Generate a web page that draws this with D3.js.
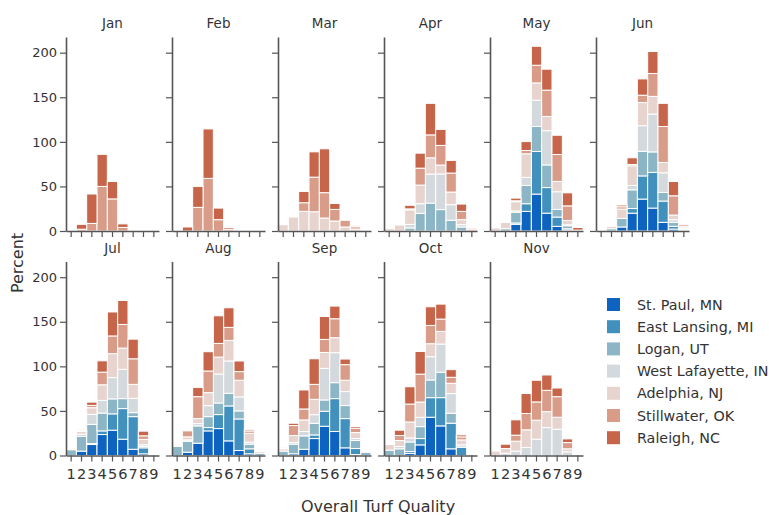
<!DOCTYPE html>
<html>
<head>
<meta charset="utf-8">
<script src="https://cdn.jsdelivr.net/npm/d3@7"></script>
<style>
	body { margin: 0; background: #fff; }
	text { font-family: "DejaVu Sans", sans-serif; fill: #333; }
</style>
</head>
<body>
<div id="chart"></div>
<script>

// stacking order, bottom to top
const locations = [ "St. Paul, MN", "East Lansing, MI", "Logan, UT", "West Lafayette, IN", "Adelphia, NJ", "Stillwater, OK", "Raleigh, NC" ];
const colors = [ "#0e63c0", "#4290bd", "#8cb6c6", "#d4d9dd", "#e8d4cf", "#d89c89", "#c6654a" ];
const qualities = [ 1, 2, 3, 4, 5, 6, 7, 8, 9 ];
const months = [ "Jan", "Feb", "Mar", "Apr", "May", "Jun", "Jul", "Aug", "Sep", "Oct", "Nov" ];
const yTicks = [ 0, 50, 100, 150, 200 ];

// percent per location (rows) and turf quality 1..9 (columns)
const jan = [
	[ 0, 0, 0, 0, 0, 0, 0, 0, 0 ],
	[ 0, 0, 0, 0, 0, 0, 0, 0, 0 ],
	[ 0, 0, 0, 0, 0, 0, 0, 0, 0 ],
	[ 0, 0, 0, 0, 0, 0, 0, 0, 0 ],
	[ 0, 0, 0, 0, 0, 0, 0, 0, 0 ],
	[ 0, 2, 8.5, 50, 36, 4, 0, 0, 0 ],
	[ 0, 5.5, 33, 36, 19.5, 4, 0, 0, 0 ]
];
const feb = [
	[ 0, 0, 0, 0, 0, 0, 0, 0, 0 ],
	[ 0, 0, 0, 0, 0, 0, 0, 0, 0 ],
	[ 0, 0, 0, 0, 0, 0, 0, 0, 0 ],
	[ 0, 0, 0, 0, 0, 0, 0, 0, 0 ],
	[ 0, 0, 0, 0, 0, 0, 0, 0, 0 ],
	[ 0, 0, 26.5, 59, 12.7, 1.5, 0, 0, 0 ],
	[ 0, 4.5, 23.5, 55.5, 13, 2, 0, 0, 0 ]
];
const mar = [
	[ 0, 0, 0, 0, 0, 0, 0, 0, 0 ],
	[ 0, 0, 0, 0, 0, 0, 0, 0, 0 ],
	[ 0, 0, 0, 0, 0, 0, 0, 0, 0 ],
	[ 0, 0, 0, 0, 0, 0, 0, 0, 0 ],
	[ 7, 15.7, 22, 21.6, 14.6, 11.2, 4.5, 2.2, 0 ],
	[ 0, 0, 9.7, 38.8, 28.4, 13, 7.5, 2.6, 0 ],
	[ 0, 0, 12.7, 28.4, 49.2, 6.7, 0, 1.2, 0 ]
];
const apr = [
	[ 0, 0, 0, 0, 0, 0, 0, 0, 0 ],
	[ 0, 0, 0, 0, 0, 0, 0, 0, 0 ],
	[ 0, 0, 3.4, 19.8, 31.3, 24, 12, 4.5, 0 ],
	[ 0, 0, 4, 10.8, 32.5, 40, 17.5, 2.6, 0 ],
	[ 2.6, 6.7, 16.4, 20.9, 18.3, 10, 14.2, 5.6, 0 ],
	[ 0, 0, 1, 19, 25.7, 22, 21.3, 9.3, 1.5 ],
	[ 0, 0, 4, 16.8, 35.4, 18, 14.2, 8.2, 1.5 ]
];
const may = [
	[ 0, 0, 7.5, 22, 41.4, 20, 5.2, 1, 0 ],
	[ 0, 0, 1.5, 8.6, 47.8, 28.7, 10.4, 1.5, 0 ],
	[ 0, 2.6, 12, 20.5, 28, 25.4, 8.6, 3.4, 0 ],
	[ 0, 0, 1.5, 9, 29.5, 38.4, 19.8, 1, 0 ],
	[ 3.4, 7, 10.4, 26.5, 19.4, 16, 11.6, 4.9, 1 ],
	[ 0, 0, 1, 3.7, 19.8, 29.5, 30.2, 16.4, 0 ],
	[ 0, 0, 3, 10, 21.3, 23.5, 21.6, 14.6, 3 ]
];
const jun = [
	[ 0, 0, 4.5, 20, 35.8, 25.7, 9.7, 2.2, 1 ],
	[ 0, 0, 0, 5.2, 26, 40, 23.9, 3, 1 ],
	[ 0.5, 2.6, 9.7, 21, 27.6, 23, 9.7, 4.5, 1 ],
	[ 0, 0, 0, 4.9, 28.7, 42.5, 22, 3, 0.5 ],
	[ 0, 2.6, 10.4, 22, 26, 19.8, 11.6, 5.2, 2 ],
	[ 0, 0, 2.6, 1.5, 8.2, 25.7, 40.3, 21.6, 2 ],
	[ 0, 0, 1.9, 7.5, 18.3, 24.6, 26, 16, 0 ]
];
const jul = [
	[ 0, 4.9, 12.3, 23.5, 28.4, 18.3, 7, 1.9, 0 ],
	[ 0, 0, 1, 4.1, 18.3, 34.3, 36.6, 6.7, 0 ],
	[ 6.3, 16.4, 21.6, 20, 16.8, 11.2, 4.5, 1.5, 0 ],
	[ 0, 2.6, 11.2, 14.2, 23.9, 32.8, 16, 1.9, 0 ],
	[ 0, 3, 7.5, 17.5, 26.9, 23.9, 15.7, 6, 0 ],
	[ 0, 1, 2.6, 14.2, 19.8, 26.5, 28.7, 4.1, 0 ],
	[ 0, 1, 3.7, 12.7, 26.9, 26.9, 22, 5.2, 0 ]
];
const aug = [
	[ 0, 3.7, 13.8, 27.6, 30.2, 16.4, 5.6, 1.9, 0 ],
	[ 0, 0, 0, 3.7, 15.7, 39.2, 35.4, 5.6, 0 ],
	[ 10.4, 12.3, 19.4, 12.3, 13, 14.2, 9, 5.2, 2.6 ],
	[ 0, 1.5, 2.6, 12.3, 32.5, 36.2, 15.7, 2.2, 0 ],
	[ 1, 3.4, 5.6, 14.6, 19, 23.1, 18.7, 10, 1.9 ],
	[ 1.2, 6.7, 24.6, 24.3, 15.3, 14.6, 9.7, 2.6, 0 ],
	[ 0, 0, 10.4, 21.6, 31, 22, 11.9, 1.5, 0 ]
];
const sep = [
	[ 0, 1.9, 7, 19, 32.8, 26.9, 8.6, 1, 0 ],
	[ 0, 0, 0, 4.1, 16.8, 36.9, 32.8, 6.8, 0 ],
	[ 4.9, 10.8, 15, 13, 12.7, 17.9, 14.6, 9, 3.7 ],
	[ 0, 1.9, 4.9, 9.7, 35.4, 33.6, 15.7, 2.2, 0 ],
	[ 2.6, 7.8, 13, 17.2, 17.9, 16.8, 12.7, 6.7, 1 ],
	[ 1, 11.2, 12.3, 16.8, 14.6, 21.3, 17.5, 4.9, 0 ],
	[ 0, 2.6, 21.3, 28.7, 25.7, 14.2, 6.3, 1.9, 0 ]
];
const oct = [
	[ 0, 0, 2.2, 11.9, 42.9, 33.2, 7.5, 0, 0 ],
	[ 0, 0, 2.2, 7.1, 22, 31.7, 28.7, 9.3, 0 ],
	[ 6, 7.5, 10.8, 13.4, 19.8, 28.4, 11.2, 0, 0 ],
	[ 0, 2.6, 4.5, 10.4, 26.1, 31.7, 22, 2.6, 0 ],
	[ 6.3, 6.7, 17.9, 17.2, 14.6, 14.2, 11.6, 5.6, 0 ],
	[ 0, 5.6, 20.1, 31.3, 20.5, 13.8, 6.7, 3.4, 0 ],
	[ 0, 6, 19.4, 25.4, 20.9, 16.8, 8.6, 2.2, 0 ]
];
const nov = [
	[ 0, 0, 0, 0, 0, 0, 0, 0, 0 ],
	[ 0, 0, 0, 0, 0, 0, 0, 0, 0 ],
	[ 0, 0, 0, 0, 0, 0, 0, 0, 0 ],
	[ 0, 2.6, 4.9, 9, 18.3, 31.3, 29.5, 4.1, 0 ],
	[ 4.9, 5.2, 11.2, 19.8, 21.3, 17.9, 13.4, 3.4, 1 ],
	[ 0, 0, 6.7, 18.3, 20.5, 23.9, 23.1, 7, 0 ],
	[ 0, 4.9, 17.2, 22.4, 24.3, 17.2, 9.7, 4.1, 0 ]
];
const monthData = [ jan, feb, mar, apr, may, jun, jul, aug, sep, oct, nov ];

///////////////////////////////////////////////////////////////////////

const width = 769, height = 515;
const panelW = 93, colStep = 106, left0 = 66;
const rowBase = [ 231, 455.5 ], panelH = 194;
const axisColor = "#555";

let svg = d3.select( "#chart" )
	.append( "svg" )
		.attr( "width", width )
		.attr( "height", height );

let x = d3.scaleBand()
	.domain( qualities )
	.range( [ 0, panelW ] )
	.padding( 0 );

let y = d3.scaleLinear()
	.domain( [ 0, 217.6 ] )
	.range( [ panelH, 0 ] );

let stack = d3.stack()
	.keys( d3.range( locations.length ) );

months.forEach( ( m, mi ) => {

	let row = mi < 6 ? 0 : 1;
	let col = mi % 6;
	let g = svg.append( "g" )
		.attr( "transform", `translate(${ left0 + col * colStep },${ rowBase[ row ] - panelH })` );

	let table = qualities.map( ( q, qi ) => {
		let o = { q };
		monthData[ mi ].forEach( ( vals, li ) => o[ li ] = vals[ qi ] );
		return( o );
	} );
	let series = stack( table );

	g.append( "g" )
		.selectAll( "g" )
		.data( series )
		.join( "g" )
			.attr( "fill", d => colors[ d.key ] )
		.selectAll( "rect" )
		.data( d => d.filter( s => s[ 1 ] - s[ 0 ] > 0 ) )
		.join( "rect" )
			.attr( "x", d => x( d.data.q ) )
			.attr( "width", x.bandwidth() )
			.attr( "y", d => y( d[ 1 ] ) )
			.attr( "height", d => y( d[ 0 ] ) - y( d[ 1 ] ) )
			.attr( "stroke", "#fff" )
			.attr( "stroke-width", 1 );

	// axes
	let xAxis = d3.axisBottom( x ).tickSize( 6 ).tickSizeOuter( 0 );
	if( row == 0 ) xAxis.tickFormat( "" );
	let gx = g.append( "g" )
		.attr( "transform", `translate(0,${ panelH })` )
		.call( xAxis );
	gx.selectAll( "text" )
		.attr( "dy", "1em" )
		.style( "font-size", "14.5px" );

	let yAxis = d3.axisLeft( y ).tickValues( yTicks ).tickSize( 6 ).tickSizeOuter( 0 );
	if( col != 0 ) yAxis.tickFormat( "" );
	let gy = g.append( "g" )
		.call( yAxis );
	gy.selectAll( "text" )
		.style( "font-size", "13px" );

	[ gx, gy ].forEach( a => {
		a.attr( "font-family", null );
		a.select( ".domain" ).attr( "stroke", axisColor ).attr( "stroke-width", 1.6 );
		a.selectAll( ".tick line" ).attr( "stroke", axisColor ).attr( "stroke-width", 1.2 );
		a.selectAll( ".tick text" ).style( "fill", "#333" );
	} );

	g.append( "text" )
		.attr( "x", panelW / 2 )
		.attr( "y", -9 )
		.attr( "text-anchor", "middle" )
		.style( "font-size", "13.5px" )
		.text( m );
} );

// axis titles
svg.append( "text" )
	.attr( "transform", "translate(23,263) rotate(-90)" )
	.attr( "text-anchor", "middle" )
	.style( "font-size", "16px" )
	.text( "Percent" );

svg.append( "text" )
	.attr( "x", 378 )
	.attr( "y", 512 )
	.attr( "text-anchor", "middle" )
	.style( "font-size", "16px" )
	.text( "Overall Turf Quality" );

// legend
let legend = svg.append( "g" )
	.attr( "transform", "translate(607,298)" );

let items = legend.selectAll( "g" )
	.data( locations )
	.join( "g" )
		.attr( "transform", ( d, i ) => `translate(0,${ i * 22.2 })` );

items.append( "rect" )
	.attr( "width", 13 )
	.attr( "height", 13 )
	.attr( "fill", ( d, i ) => colors[ i ] );

items.append( "text" )
	.attr( "x", 30 )
	.attr( "y", 6.5 )
	.attr( "dy", "0.35em" )
	.style( "font-size", "14.3px" )
	.text( d => d );

</script>
</body>
</html>
